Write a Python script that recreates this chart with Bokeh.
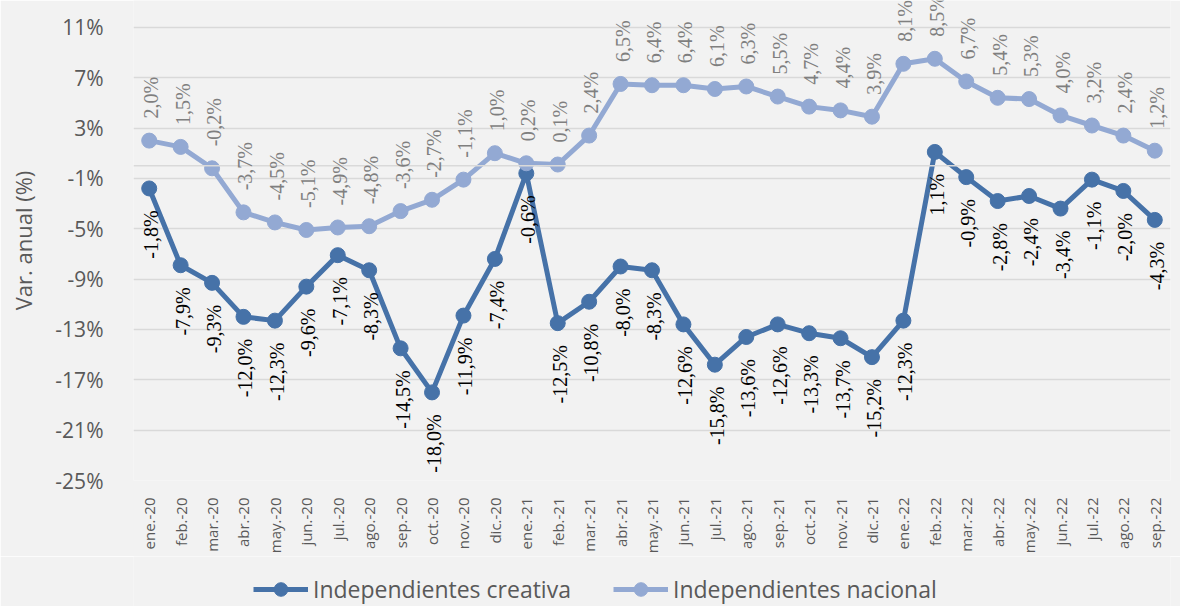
from math import pi
from bokeh.plotting import figure
from bokeh.layouts import column
from bokeh.models import (ColumnDataSource, FactorRange, Range1d, FixedTicker, PrintfTickFormatter,
                          Span, LabelSet, Legend, LegendItem)
from bokeh.embed import file_html
from bokeh.resources import INLINE

months = ["ene.-20", "feb.-20", "mar.-20", "abr.-20", "may.-20", "jun.-20", "jul.-20", "ago.-20",
          "sep.-20", "oct.-20", "nov.-20", "dic.-20", "ene.-21", "feb.-21", "mar.-21", "abr.-21",
          "may.-21", "jun.-21", "jul.-21", "ago.-21", "sep.-21", "oct.-21", "nov.-21", "dic.-21",
          "ene.-22", "feb.-22", "mar.-22", "abr.-22", "may.-22", "jun.-22", "jul.-22", "ago.-22",
          "sep.-22"]
creativa = [-1.8, -7.9, -9.3, -12.0, -12.3, -9.6, -7.1, -8.3, -14.5, -18.0, -11.9, -7.4,
            -0.6, -12.5, -10.8, -8.0, -8.3, -12.6, -15.8, -13.6, -12.6, -13.3, -13.7, -15.2,
            -12.3, 1.1, -0.9, -2.8, -2.4, -3.4, -1.1, -2.0, -4.3]
nacional = [2.0, 1.5, -0.2, -3.7, -4.5, -5.1, -4.9, -4.8, -3.6, -2.7, -1.1, 1.0,
            0.2, 0.1, 2.4, 6.5, 6.4, 6.4, 6.1, 6.3, 5.5, 4.7, 4.4, 3.9,
            8.1, 8.5, 6.7, 5.4, 5.3, 4.0, 3.2, 2.4, 1.2]
y_ticks = [-25, -21, -17, -13, -9, -5, -1, 3, 7, 11]
series_names = ["Independientes creativa", "Independientes nacional"]


def fmt(v):
    return f"{v:.1f}%".replace(".", ",")


src = ColumnDataSource(dict(
    m=months, c=creativa, n=nacional,
    cl=[fmt(v) for v in creativa], nl=[fmt(v) for v in nacional],
))

C_DARK = "#4672A8"
C_LIGHT = "#93A9D3"
GRID = "#D9D9D9"
BG = "#F2F2F2"
TXT = "#595959"
FONT = "Open Sans"

# ---------------- main chart ----------------
p = figure(width=1180, height=556, x_range=FactorRange(factors=months, range_padding=0),
           y_range=Range1d(-25, 13.13), output_backend="svg", toolbar_location=None,
           min_border_left=133, min_border_right=10, min_border_top=0, min_border_bottom=73)
p.background_fill_color = BG
p.border_fill_color = BG
p.outline_line_color = None

p.xgrid.grid_line_color = None
p.ygrid.grid_line_color = GRID
p.ygrid.grid_line_width = 1.5
p.yaxis.ticker = FixedTicker(ticks=y_ticks)
p.yaxis.formatter = PrintfTickFormatter(format="%d%%")
p.yaxis.axis_line_color = None
p.yaxis.major_tick_line_color = None
p.yaxis.minor_tick_line_color = None
p.yaxis.major_label_text_font = FONT
p.yaxis.major_label_text_font_size = "21px"
p.yaxis.major_label_text_color = TXT
p.yaxis.major_label_standoff = 24
p.yaxis.axis_label = "Var. anual (%)"
p.yaxis.axis_label_text_font = FONT
p.yaxis.axis_label_text_font_size = "22px"
p.yaxis.axis_label_text_font_style = "normal"
p.yaxis.axis_label_text_color = TXT
p.yaxis.axis_label_standoff = 14

p.xaxis.axis_line_color = None
p.xaxis.major_tick_line_color = None
p.xaxis.minor_tick_line_color = None
p.xaxis.major_label_orientation = pi / 2
p.xaxis.major_label_text_font = FONT
p.xaxis.major_label_text_font_size = "15px"
p.xaxis.major_label_text_color = TXT
p.xaxis.major_label_standoff = 11

p.add_layout(Span(location=0, dimension="width", line_color=GRID, line_width=1.5))

p.line("m", "c", source=src, line_color=C_DARK, line_width=5)
p.scatter("m", "c", source=src, size=15, fill_color=C_DARK, line_color=C_DARK)
p.line("m", "n", source=src, line_color=C_LIGHT, line_width=5)
p.scatter("m", "n", source=src, size=15, fill_color=C_LIGHT, line_color=C_LIGHT)

lab_c = LabelSet(x="m", y="c", text="cl", source=src, angle=pi / 2, text_align="right",
                 text_baseline="middle", y_offset=-22, x_offset=2, text_font=FONT,
                 text_font_size="20px", text_color="#000000")
lab_n = LabelSet(x="m", y="n", text="nl", source=src, angle=pi / 2, text_align="left",
                 text_baseline="middle", y_offset=22, x_offset=2, text_font=FONT,
                 text_font_size="20px", text_color="#7F7F7F")
p.add_layout(lab_c)
p.add_layout(lab_n)

# ---------------- legend strip ----------------
q = figure(width=1180, height=50, x_range=p.x_range, y_range=Range1d(1000, 1001),
           x_axis_type=None, y_axis_type=None, output_backend="svg", toolbar_location=None,
           min_border_left=0, min_border_right=0, min_border_top=0, min_border_bottom=0)
q.background_fill_color = BG
q.border_fill_color = BG
q.outline_line_color = None
q.grid.visible = False
ql1 = q.line("m", "c", source=src, line_color=C_DARK, line_width=5)
qs1 = q.scatter("m", "c", source=src, size=15, fill_color=C_DARK, line_color=C_DARK)
ql2 = q.line("m", "n", source=src, line_color=C_LIGHT, line_width=5)
qs2 = q.scatter("m", "n", source=src, size=15, fill_color=C_LIGHT, line_color=C_LIGHT)

legend = Legend(items=[LegendItem(label=series_names[0], renderers=[ql1, qs1]),
                       LegendItem(label=series_names[1], renderers=[ql2, qs2])],
                orientation="horizontal", location=(120, 0))
legend.background_fill_alpha = 0
legend.border_line_alpha = 0
legend.label_text_font = FONT
legend.label_text_font_size = "23px"
legend.label_text_color = TXT
legend.glyph_width = 55
legend.glyph_height = 34
legend.label_standoff = 5
legend.spacing = 42
legend.padding = 0
legend.margin = 0
q.add_layout(legend, "center")

open("out.html", "w").write(file_html(column(p, q, spacing=0), INLINE))
